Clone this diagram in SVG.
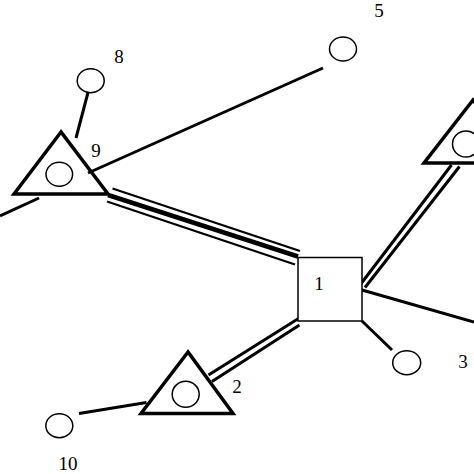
<svg xmlns="http://www.w3.org/2000/svg" width="474" height="474" viewBox="0 0 474 474">
<style>
.tri{fill:none;stroke:#000;stroke-width:3.5;stroke-linejoin:miter}
.sq{fill:#fff;stroke:#000;stroke-width:1.5}
.c{fill:none;stroke:#000;stroke-width:1.5}
.ln{stroke:#000;stroke-width:3;fill:none}
.lt{stroke:#000;stroke-width:2.2;fill:none}
.lk{stroke:#000;stroke-width:4.5;fill:none}
text{font-family:"Liberation Serif","Times New Roman",serif;font-size:19px;fill:#000;text-anchor:middle}
</style>
<rect width="474" height="474" fill="#fff"/>
<g id="connectors">
<line class="ln" x1="88" y1="92.5" x2="76" y2="138"/>
<line class="ln" x1="88" y1="173" x2="323" y2="68"/>
<line class="ln" x1="39" y1="198" x2="0" y2="216"/>
<line class="lt" x1="112.5" y1="188.5" x2="300" y2="251"/>
<line class="lk" x1="108" y1="195" x2="298" y2="256.5"/>
<line class="lt" x1="107" y1="201.5" x2="295" y2="264.5"/>
<line class="ln" x1="208.5" y1="375" x2="298.5" y2="318.5"/>
<line class="ln" x1="212" y1="381.5" x2="299.5" y2="325"/>
<line class="ln" x1="360" y1="285" x2="451.5" y2="165"/>
<line class="ln" x1="365" y1="287.5" x2="459.5" y2="166.5"/>
<line class="ln" x1="362" y1="290" x2="474" y2="322"/>
<line class="ln" x1="362" y1="321" x2="392" y2="350"/>
<line class="ln" x1="146.5" y1="402.5" x2="79" y2="413.5"/>
</g>
<g id="node1">
<rect class="sq" x="298" y="257.5" width="64" height="63.5"/>
<text x="319" y="289.5">1</text>
</g>
<g id="node2">
<polygon class="tri" points="188,352 141,413.5 233,413.5"/>
<ellipse class="c" cx="185.7" cy="394.3" rx="13.5" ry="13"/>
<text x="237" y="393">2</text>
</g>
<g id="node3">
<ellipse class="c" cx="406.7" cy="362.7" rx="14" ry="12"/>
<text x="463" y="368">3</text>
</g>
<g id="node4">
<polygon class="tri" points="473,100 424,163 522,163"/>
<ellipse class="c" cx="466" cy="144" rx="13.5" ry="13"/>
</g>
<g id="node5">
<ellipse class="c" cx="343" cy="49" rx="13.5" ry="12"/>
<text x="379" y="17">5</text>
</g>
<g id="node8">
<ellipse class="c" cx="90.7" cy="80.7" rx="13.5" ry="12"/>
<text x="119" y="63">8</text>
</g>
<g id="node9">
<polygon class="tri" points="61,132 14,194 108,194"/>
<ellipse class="c" cx="59.3" cy="174.3" rx="13.3" ry="12"/>
<text x="96" y="157">9</text>
</g>
<g id="node10">
<ellipse class="c" cx="59.3" cy="425.7" rx="13.5" ry="12"/>
<text x="68" y="470">10</text>
</g>
</svg>
